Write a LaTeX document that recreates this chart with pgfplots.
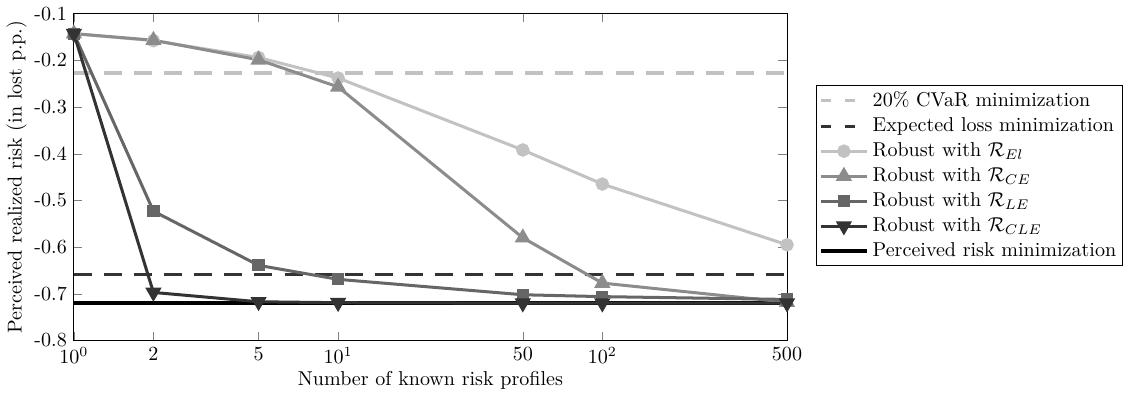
\documentclass[border=0pt]{standalone}
\usepackage{pgfplots}
\pgfplotsset{compat=1.18}
\definecolor{cLight}{gray}{0.76}
\definecolor{cMid}{gray}{0.55}
\definecolor{cLE}{gray}{0.40}
\definecolor{cDark}{gray}{0.20}
\begin{document}
\begin{tikzpicture}
\begin{axis}[
  scale only axis,
  width=355.5pt, height=163pt,
  xmode=log,
  xmin=1, xmax=500,
  ymin=-0.8, ymax=-0.1,
  xtick={1,2,5,10,50,100,500},
  xticklabels={$10^0$,2,5,$10^1$,50,$10^2$,500},
  ytick={-0.8,-0.7,-0.6,-0.5,-0.4,-0.3,-0.2,-0.1},
  yticklabels={-0.8,-0.7,-0.6,-0.5,-0.4,-0.3,-0.2,-0.1},
  minor xtick={},
  tick align=inside,
  xtick pos=both, ytick pos=both,
  xlabel={Number of known risk profiles},
  ylabel={Perceived realized risk (in lost p.p.)},
  xlabel style={yshift=3pt},
  ylabel style={yshift=-3pt},
  legend style={at={(1.041,0.782)}, anchor=north west, font=\normalsize, draw=black, row sep=0pt, inner sep=1.2pt},
  legend cell align=left,
  legend image code/.code={
    \draw[#1] (0cm,0cm) -- (0.8cm,0cm);
    \draw[#1,only marks] plot coordinates {(0.4cm,0cm)};
  },
]
\addplot[cLight, line width=1.6pt, dash pattern=on 9pt off 6pt, forget plot] coordinates {(1,-0.227) (500,-0.227)};
\addplot[cDark, line width=1.6pt, dash pattern=on 9pt off 6pt, forget plot] coordinates {(1,-0.658) (500,-0.658)};
\addplot[black, line width=2pt, forget plot] coordinates {(1,-0.720) (500,-0.720)};

\addplot[cLight, line width=1.5pt, mark=*, mark size=2.6pt, forget plot] coordinates {
(1,-0.143) (2,-0.158) (5,-0.194) (10,-0.238) (50,-0.392) (100,-0.465) (500,-0.595)};
\addplot[cMid, line width=1.5pt, mark=triangle*, mark size=3.2pt, forget plot] coordinates {
(1,-0.143) (2,-0.157) (5,-0.199) (10,-0.257) (50,-0.580) (100,-0.677) (500,-0.718)};
\addplot[cLE, line width=1.5pt, mark=square*, mark size=2.3pt, forget plot] coordinates {
(1,-0.143) (2,-0.523) (5,-0.639) (10,-0.669) (50,-0.702) (100,-0.706) (500,-0.712)};
\addplot[cDark, line width=1.5pt, mark=triangle*, mark options={rotate=180}, mark size=3.2pt, forget plot] coordinates {
(1,-0.143) (2,-0.697) (5,-0.717) (10,-0.719) (50,-0.720) (100,-0.720) (500,-0.720)};

% legend entries
\addlegendimage{cLight, line width=1.6pt, dash pattern=on 5pt off 7pt}
\addlegendentry{20\% CVaR minimization}
\addlegendimage{cDark, line width=1.6pt, dash pattern=on 5pt off 7pt}
\addlegendentry{Expected loss minimization}
\addlegendimage{cLight, line width=1.5pt, mark=*, mark size=2.6pt}
\addlegendentry{Robust with $\mathcal{R}_{El}$}
\addlegendimage{cMid, line width=1.5pt, mark=triangle*, mark size=3.2pt}
\addlegendentry{Robust with $\mathcal{R}_{CE}$}
\addlegendimage{cLE, line width=1.5pt, mark=square*, mark size=2.3pt}
\addlegendentry{Robust with $\mathcal{R}_{LE}$}
\addlegendimage{cDark, line width=1.5pt, mark=triangle*, mark options={rotate=180}, mark size=3.2pt}
\addlegendentry{Robust with $\mathcal{R}_{CLE}$}
\addlegendimage{black, line width=2pt}
\addlegendentry{Perceived risk minimization}
\end{axis}
\end{tikzpicture}
\end{document}
